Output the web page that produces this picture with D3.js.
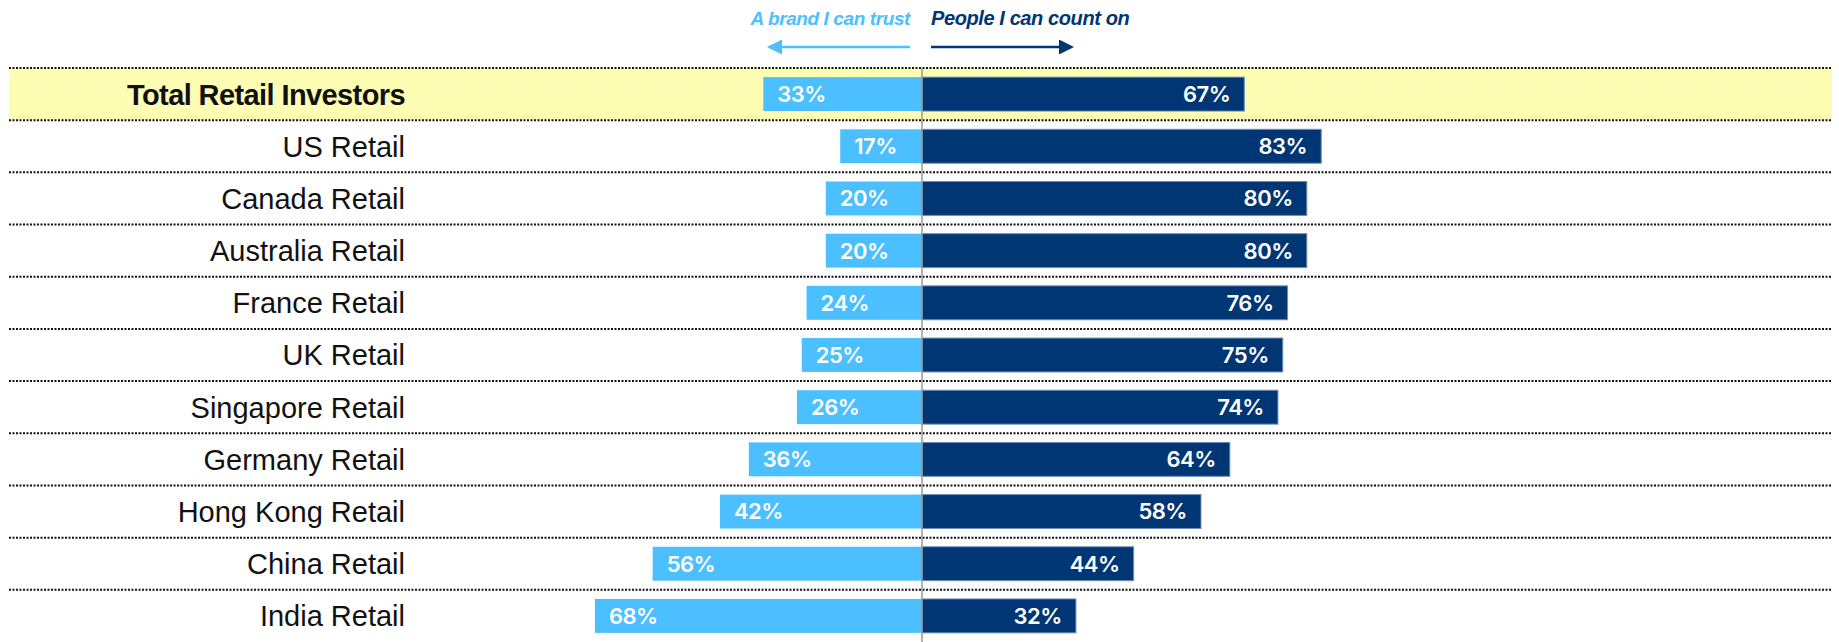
<!DOCTYPE html>
<html>
<head>
<meta charset="utf-8">
<script src="https://cdn.jsdelivr.net/npm/d3@7"></script>
<style>
  body { margin: 0; background: #fff; }
  svg { display: block; }
</style>
</head>
<body>
<div id="chart"></div>
<script>
// data
var categories = ["Total Retail Investors", "US Retail", "Canada Retail", "Australia Retail",
    "France Retail", "UK Retail", "Singapore Retail", "Germany Retail",
    "Hong Kong Retail", "China Retail", "India Retail"];
var brandTrust = [33, 17, 20, 20, 24, 25, 26, 36, 42, 56, 68];
var peopleCount = [67, 83, 80, 80, 76, 75, 74, 64, 58, 44, 32];
var seriesNames = ["A brand I can trust", "People I can count on"];

var svgWidth = 1839;
var svgHeight = 642;
var lightBlue = "#4bbfff";
var navy = "#003673";

var svg = d3.select("#chart").append("svg")
    .attr("width", svgWidth)
    .attr("height", svgHeight);

var centerX = 922;
var xScale = d3.scaleLinear()
    .domain([0, 100])
    .range([0, 481]);

var yScale = d3.scaleBand()
    .domain(categories)
    .range([68, 642])
    .paddingInner(0.35)
    .paddingOuter(0.175);

var rowStep = yScale.step();

// highlight band for the total row
svg.append("rect")
    .attr("x", 9)
    .attr("y", 68)
    .attr("width", 1823)
    .attr("height", rowStep)
    .attr("fill", "#fefdb4");

// dotted separators
svg.append("g").selectAll("line")
    .data(categories)
    .enter()
    .append("line")
    .attr("x1", 9)
    .attr("x2", 1832)
    .attr("y1", (d, i) => 68 + i * rowStep)
    .attr("y2", (d, i) => 68 + i * rowStep)
    .attr("stroke", "#111")
    .attr("stroke-width", 2)
    .attr("stroke-dasharray", "2,1.5");

var rows = categories.map((c, i) => ({ cat: c, left: brandTrust[i], right: peopleCount[i] }));

// left bars
svg.append("g").selectAll("rect")
    .data(rows)
    .enter()
    .append("rect")
    .attr("x", d => centerX - xScale(d.left))
    .attr("y", d => yScale(d.cat))
    .attr("width", d => xScale(d.left))
    .attr("height", yScale.bandwidth())
    .attr("fill", lightBlue);

// right bars
svg.append("g").selectAll("rect")
    .data(rows)
    .enter()
    .append("rect")
    .attr("x", centerX)
    .attr("y", d => yScale(d.cat))
    .attr("width", d => xScale(d.right))
    .attr("height", yScale.bandwidth())
    .attr("fill", navy)
    .attr("stroke", "#6f8fb8")
    .attr("stroke-width", 1);

// value labels
var valueFont = "Inter, Liberation Sans, Arial, sans-serif";
svg.append("g").selectAll("text")
    .data(rows)
    .enter()
    .append("text")
    .attr("x", d => centerX - xScale(d.left) + 14)
    .attr("y", d => yScale(d.cat) + yScale.bandwidth() / 2)
    .attr("dy", "0.36em")
    .attr("fill", "#fff")
    .style("font-family", valueFont)
    .style("font-weight", 600)
    .style("font-size", "22px")
    .style("letter-spacing", "-0.5px")
    .text(d => d.left + "%");

svg.append("g").selectAll("text")
    .data(rows)
    .enter()
    .append("text")
    .attr("x", d => centerX + xScale(d.right) - 14)
    .attr("y", d => yScale(d.cat) + yScale.bandwidth() / 2)
    .attr("dy", "0.36em")
    .attr("text-anchor", "end")
    .attr("fill", "#fff")
    .style("font-family", valueFont)
    .style("font-weight", 600)
    .style("font-size", "22px")
    .style("letter-spacing", "-0.5px")
    .text(d => d.right + "%");

// category labels
svg.append("g").selectAll("text")
    .data(categories)
    .enter()
    .append("text")
    .attr("x", 405)
    .attr("y", d => yScale(d) + yScale.bandwidth() / 2)
    .attr("dy", "0.36em")
    .attr("text-anchor", "end")
    .attr("fill", "#111")
    .style("font-family", "Liberation Sans, Arial, sans-serif")
    .style("font-size", "29px")
    .style("font-weight", (d, i) => i === 0 ? "bold" : "normal")
    .style("letter-spacing", (d, i) => i === 0 ? "-0.6px" : "0px")
    .text(d => d);

// center axis line
svg.append("line")
    .attr("x1", centerX)
    .attr("x2", centerX)
    .attr("y1", 68)
    .attr("y2", svgHeight)
    .attr("stroke", "#999")
    .attr("stroke-width", 1.5);

// header legend with arrows
var defs = svg.append("defs");
[["headL", lightBlue], ["headR", navy]].forEach(function(m) {
    defs.append("marker")
        .attr("id", m[0])
        .attr("viewBox", "0 0 10 10")
        .attr("refX", 8)
        .attr("refY", 5)
        .attr("markerWidth", 6)
        .attr("markerHeight", 6)
        .attr("orient", "auto")
        .append("path")
        .attr("d", "M0,0 L10,5 L0,10 Z")
        .attr("fill", m[1]);
});

svg.append("text")
    .attr("x", 910)
    .attr("y", 25)
    .attr("text-anchor", "end")
    .attr("fill", lightBlue)
    .style("font-family", "Liberation Sans, Arial, sans-serif")
    .style("font-style", "italic")
    .style("font-weight", "bold")
    .style("font-size", "19px")
    .style("letter-spacing", "-0.4px")
    .text(seriesNames[0]);

svg.append("text")
    .attr("x", 931)
    .attr("y", 25)
    .attr("fill", navy)
    .style("font-family", "Liberation Sans, Arial, sans-serif")
    .style("font-style", "italic")
    .style("font-weight", "bold")
    .style("font-size", "20px")
    .style("letter-spacing", "-0.4px")
    .text(seriesNames[1]);

svg.append("line")
    .attr("x1", 910).attr("x2", 770)
    .attr("y1", 47).attr("y2", 47)
    .attr("stroke", lightBlue)
    .attr("stroke-width", 2.5)
    .attr("marker-end", "url(#headL)");

svg.append("line")
    .attr("x1", 931).attr("x2", 1071)
    .attr("y1", 47).attr("y2", 47)
    .attr("stroke", navy)
    .attr("stroke-width", 2.5)
    .attr("marker-end", "url(#headR)");
</script>
</body>
</html>
